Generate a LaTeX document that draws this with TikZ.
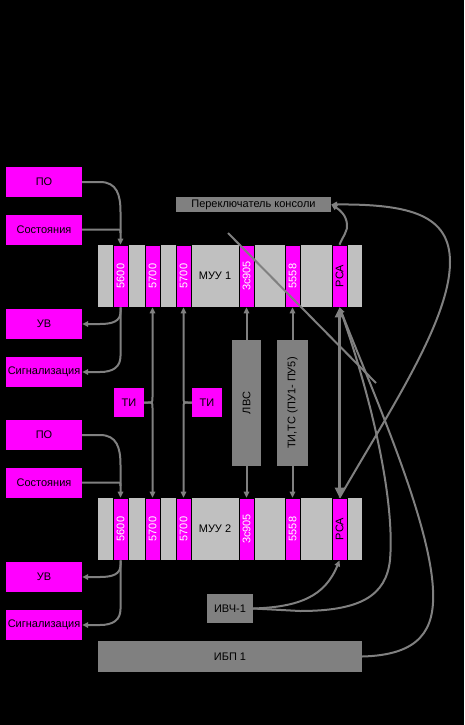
\documentclass[tikz,border=0pt]{standalone}
\usepackage{fontspec}
\setmainfont{Liberation Sans}
\usetikzlibrary{arrows.meta}
\definecolor{pinkbox}{HTML}{FF00FF}
\definecolor{lgrey}{HTML}{C0C0C0}
\definecolor{dgrey}{HTML}{808080}
\tikzset{every node/.style={font=\fontsize{11}{12}\selectfont, inner sep=0pt},
    unit/.style={fill=pinkbox, minimum width=76pt, minimum height=30pt},
    greybox/.style={fill=dgrey},
    bar/.style={fill=lgrey, minimum width=264pt, minimum height=62pt},
    slot/.style={fill=pinkbox, draw=black, line width=0.7pt, minimum width=15pt, minimum height=62pt, font=\fontsize{11}{12}\selectfont},
    conn/.style={draw=dgrey, line width=2pt, -{Triangle[length=6pt,width=5.5pt]}},
    }

\begin{document}
\begin{tikzpicture}[x=1pt,y=-1pt]
	\fill[black] (0,0) rectangle (464,725);
	\useasboundingbox (0,0) rectangle (464,725);
	% two control units with their slots and side boxes
	\foreach \u/\d in {1/0,2/253}{
	\begin{scope}[yshift=-\d pt]
		\node[bar] (muu\u) at (230,276) {};
		\node (muulabel\u) at (215,276) {МУУ \u};
		\foreach \s/\x/\t/\c in {a/120.5/5600/white,b/152.5/5700/white,c/183.5/5700/white,d/246.5/3c905/white,e/292.5/5558/white,f/339.5/PCA/black}
			\node[slot,text=\c] (m\u\s) at (\x,276) {\rotatebox{90}{\t}};
		\node[unit] (po\u) at (44,182) {ПО};
		\node[unit] (sost\u) at (44,229.5) {Состояния};
		\node[unit] (uv\u) at (44,324) {УВ};
		\node[unit] (sig\u) at (44,372) {Сигнализация};
		\draw[conn] (po\u.east) -- (100,182) .. controls (117,182) and (120.5,195) .. (120.5,212) -- (m\u a.north);
		\draw[conn,-] (sost\u.east) -- (117,229.5) .. controls (120.5,229.5) .. (120.5,233);
		\draw[conn] (m\u a.south) -- (120.5,312) .. controls (120.5,321) and (113,324) .. (100,324) -- (uv\u.east);
		\draw[conn] (m\u a.south) -- (120.5,356) .. controls (120.5,367) and (113,372) .. (100,372) -- (sig\u.east);
	\end{scope}}
	\node[unit, minimum width=30pt, minimum height=29pt] (ti1) at (129,402.5) {ТИ};
	\node[unit, minimum width=30pt, minimum height=29pt] (ti2) at (207,402.5) {ТИ};
	\node[greybox, minimum width=29pt, minimum height=126pt] (lvs) at (246.5,403) {\rotatebox{90}{ЛВС}};
	\node[greybox, minimum width=31pt, minimum height=126pt] (tits) at (292.5,403) {\rotatebox{90}{ТИ,ТС (ПУ1- ПУ5)}};
	\node[greybox, minimum width=155pt, minimum height=15pt] (switch) at (253.5,204.5) {Переключатель консоли};
	\node[greybox, minimum width=46pt, minimum height=29pt] (ivch) at (230,608.5) {ИВЧ-1};
	\node[greybox, minimum width=264pt, minimum height=31pt] (ibp) at (230,656.5) {ИБП 1};
	% links between the units
	\draw[conn] (ti1.east) -- (148,402.5) .. controls (152.5,402.5) .. (152.5,397) -- (m1b.south);
	\draw[conn] (ti1.east) -- (148,402.5) .. controls (152.5,402.5) .. (152.5,408) -- (m2b.north);
	\draw[conn] (ti2.west) -- (188,402.5) .. controls (183.5,402.5) .. (183.5,397) -- (m1c.south);
	\draw[conn] (ti2.west) -- (188,402.5) .. controls (183.5,402.5) .. (183.5,408) -- (m2c.north);
	\draw[conn] (lvs.north) -- (m1d.south);
	\draw[conn] (lvs.south) -- (m2d.north);
	\draw[conn] (tits.north) -- (m1e.south);
	\draw[conn] (tits.south) -- (m2e.north);
	\draw[conn] (ivch.east) .. controls (300,607) and (325,596) .. (m2f.south);
	\draw[conn] (ivch.east) -- (300,611) .. controls (360,611) and (386,596) .. (390,560) .. controls (395,500) and (372,400) .. (m1f.south);
	\draw[conn] (ibp.east) .. controls (420,655) and (435,630) .. (433,590) .. controls (430,520) and (372,390) .. (m1f.south);
	\draw[conn] (m2f.north) .. controls (390,410) and (450,320) .. (450,262) .. controls (450,215) and (410,204) .. (switch.east);
	\draw[conn] (m1f.north) .. controls (343,236) and (348,231) .. (347,224) .. controls (346,215) and (340,210) .. (switch.east);
	\draw[conn, line width=3.5pt, {Triangle[length=10pt,width=9pt]}-{Triangle[length=10pt,width=9pt]}] (m1f.south) -- (m2f.north);
	\coordinate (cutA) at (228,233);
	\coordinate (cutB) at (376,383);
	\draw[conn,-] (cutA) -- (cutB);
\end{tikzpicture}
\end{document}
